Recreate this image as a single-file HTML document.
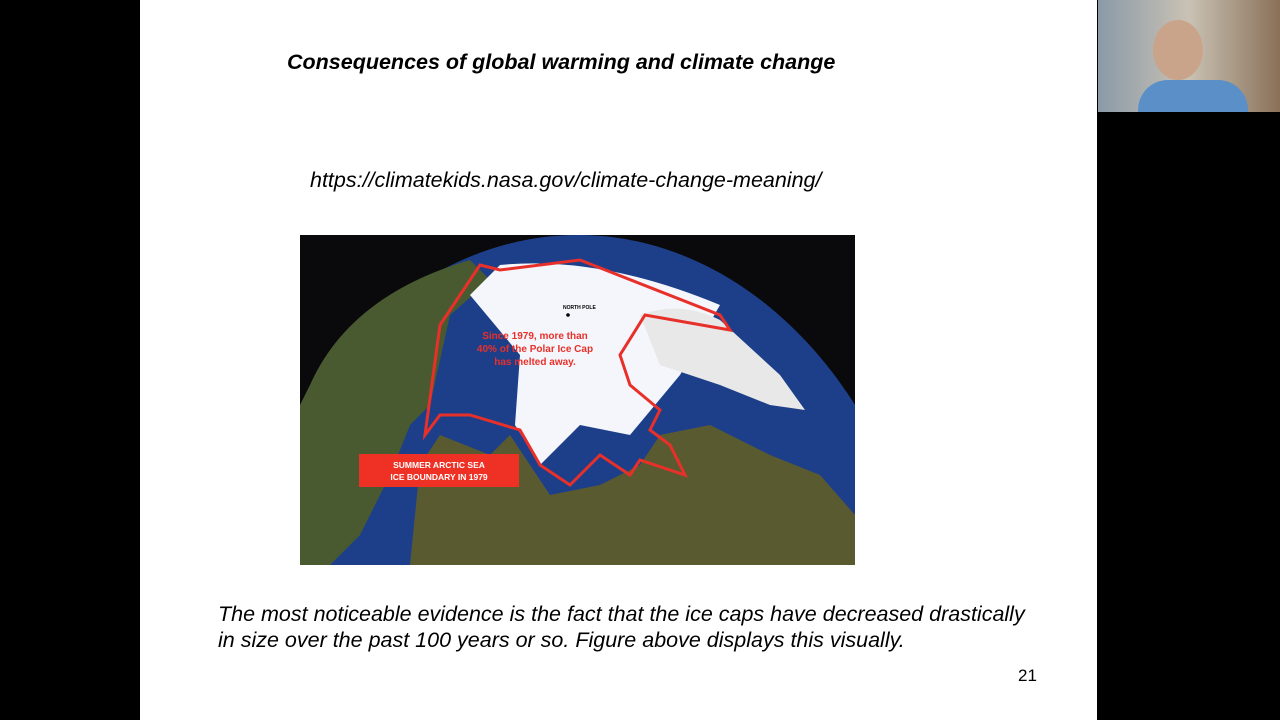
<!DOCTYPE html>
<html><head><meta charset="utf-8"><style>
html,body{margin:0;width:1280px;height:720px;overflow:hidden}
body{background:#000;position:relative;font-family:"Liberation Sans",sans-serif}
.slide{position:absolute;left:140px;top:0;width:957px;height:720px;background:#fff}
.t{position:absolute;font-style:italic;color:#000;white-space:nowrap}
</style></head><body>
<div class="slide"></div>
<div class="t" style="left:287px;top:50px;font-size:21.5px;font-weight:bold">Consequences of global warming and climate change</div>
<div class="t" style="left:310px;top:168px;font-size:21.5px">https://climatekids.nasa.gov/climate-change-meaning/</div>
<svg style="position:absolute;left:300px;top:235px;overflow:hidden" width="555" height="330" viewBox="0 0 555 330">
<rect width="555" height="330" fill="#0a0a0c"/>
<ellipse cx="278" cy="470" rx="360" ry="470" fill="#1d3f8a"/>
<path d="M10 150 Q50 60 170 25 L190 45 L150 80 L130 170 L110 190 L90 240 L60 300 L30 330 L0 330 L0 170Z" fill="#4a5a30"/>
<path d="M110 330 L120 230 L140 200 L190 220 L210 200 L250 260 L300 250 L340 230 L360 200 L410 190 L470 220 L520 240 L555 280 L555 330Z" fill="#5a5a30"/>
<path d="M200 30 Q300 20 420 70 L380 140 L330 200 L280 190 L240 230 L215 190 L220 120 L170 60Z" fill="#f4f6fb"/>
<path d="M340 80 Q380 65 420 85 L480 140 L505 175 L470 170 L420 150 L360 130Z" fill="#e8e8e8"/>
<path d="M180 30 L200 35 L280 25 L420 80 L430 95 L345 80 L320 120 L330 150 L360 175 L350 195 L370 210 L385 240 L340 225 L330 240 L300 220 L270 250 L240 230 L220 195 L170 180 L140 180 L125 200 L140 90 Z" fill="none" stroke="#e8302a" stroke-width="3"/>
<rect x="59" y="219" width="160" height="33" fill="#ee3124"/>
<text x="139" y="233" font-size="8.5" font-weight="bold" fill="#fff" text-anchor="middle">SUMMER ARCTIC SEA</text>
<text x="139" y="245" font-size="8.5" font-weight="bold" fill="#fff" text-anchor="middle">ICE BOUNDARY IN 1979</text>
<text x="263" y="74" font-size="5" font-weight="bold" fill="#000">NORTH POLE</text>
<circle cx="268" cy="80" r="1.8" fill="#000"/>
<text x="235" y="104" font-size="10" font-weight="bold" fill="#e8302a" text-anchor="middle">Since 1979, more than</text>
<text x="235" y="117" font-size="10" font-weight="bold" fill="#e8302a" text-anchor="middle">40% of the Polar Ice Cap</text>
<text x="235" y="130" font-size="10" font-weight="bold" fill="#e8302a" text-anchor="middle">has melted away.</text>
</svg>
<div class="t" style="left:218px;top:602px;font-size:21.5px">The most noticeable evidence is the fact that the ice caps have decreased drastically</div>
<div class="t" style="left:218px;top:628px;font-size:21.5px">in size over the past 100 years or so. Figure above displays this visually.</div>
<div class="t" style="left:1018px;top:666px;font-size:17px;font-style:normal">21</div>
<div style="position:absolute;left:1098px;top:0;width:182px;height:112px;overflow:hidden;background:linear-gradient(90deg,#8a9aa8,#c9c2b4 50%,#8a7058)">
<div style="position:absolute;left:55px;top:20px;width:50px;height:60px;border-radius:50%;background:#c9a48a"></div>
<div style="position:absolute;left:40px;top:80px;width:110px;height:32px;border-radius:30px 30px 0 0;background:#5a8fc8"></div>
</div>
</body></html>
